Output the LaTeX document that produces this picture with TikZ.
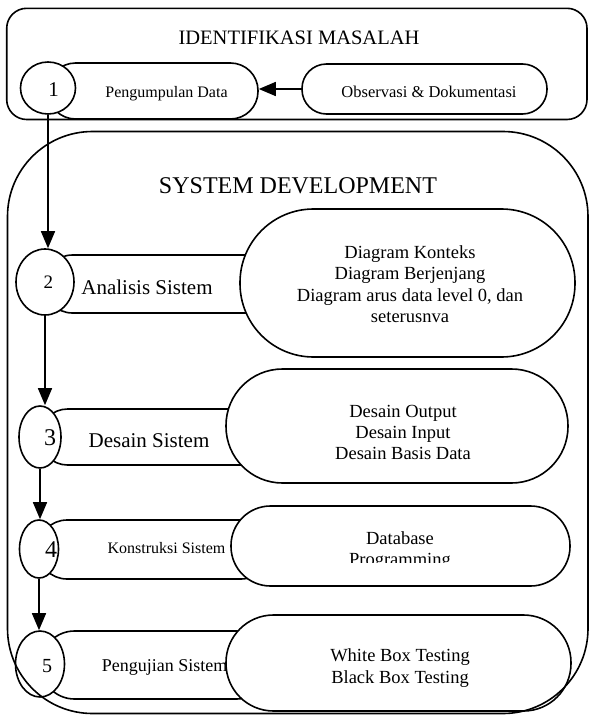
\documentclass[tikz,border=0pt]{standalone}
\usepackage{fontspec}
\setmainfont{Liberation Serif}
\usetikzlibrary{arrows.meta,shapes.geometric}
\begin{document}
\begin{tikzpicture}[x=1pt,y=-1pt,line width=1.6pt,
  pillbox/.style={draw, fill=white, rectangle, inner sep=0pt},
  numcirc/.style={draw, fill=white, ellipse, inner sep=0pt},
  lbl/.style={inner sep=0pt, anchor=base},
  fs/.style={font=\fontsize{#1}{#1}\selectfont},
  flow/.style={-{Triangle[length=17pt,width=14pt]}}]
\useasboundingbox (0,0) rectangle (590,715);

% top frame
\draw[rounded corners=20pt] (6.7,8.3) rectangle (587,119.5);

% row 1
\node[pillbox, minimum width=210pt, minimum height=56pt, rounded corners=27.5pt] (p1) at (153,91) {};
\node[pillbox, minimum width=245pt, minimum height=50pt, rounded corners=24.5pt] (obs) at (424.5,89) {};
\node[numcirc, minimum width=55pt, minimum height=52pt] (c1) at (48,88) {};

% row 2
\node[pillbox, minimum width=246pt, minimum height=58pt, rounded corners=28.5pt] (p2) at (167,284) {};
\node[numcirc, minimum width=58pt, minimum height=66pt] (c2) at (45,282) {};
\node[pillbox, minimum width=335pt, minimum height=148pt, rounded corners=73.5pt] (b2) at (407.5,283) {};

% row 3
\node[pillbox, minimum width=230pt, minimum height=56pt, rounded corners=27.5pt] (p3) at (155,437) {};
\node[numcirc, minimum width=42pt, minimum height=62pt] (c3) at (40,437) {};
\node[pillbox, minimum width=342pt, minimum height=114pt, rounded corners=56.5pt] (b3) at (397,426) {};

% row 4
\node[pillbox, minimum width=232pt, minimum height=59pt, rounded corners=29pt] (p4) at (154,549.5) {};
\node[numcirc, minimum width=39pt, minimum height=58pt] (c4) at (39,549) {};
\node[pillbox, minimum width=339pt, minimum height=80pt, rounded corners=39.5pt] (b4) at (400.5,546) {};

% row 5
\node[pillbox, minimum width=229pt, minimum height=68pt, rounded corners=33.5pt] (p5) at (155.5,665) {};
\node[numcirc, minimum width=49pt, minimum height=66pt] (c5) at (40,664) {};
\node[lbl, fs=18] (l5) at (164.5,671) {Pengujian Sistem};
\node[pillbox, minimum width=345pt, minimum height=96pt, rounded corners=47.5pt] (b5) at (398.5,663) {};

% texts
\node[lbl, fs=20.5] (t1) at (299,44.5) {IDENTIFIKASI MASALAH};
\node[lbl, fs=24] (t2) at (298,193) {SYSTEM DEVELOPMENT};
\node[lbl, fs=21] (n1) at (53.5,96) {1};
\node[lbl, fs=16] (l1) at (166.5,97.5) {Pengumpulan Data};
\node[lbl, fs=16.5] (l0) at (429,97.5) {Observasi \& Dokumentasi};

\node[lbl, fs=19] (n2) at (48.3,288) {2};
\node[lbl, fs=21] (l2) at (147,294) {Analisis Sistem};
\node[lbl, fs=18.5] (d21) at (410,258) {Diagram Konteks};
\node[lbl, fs=18.5] (d22) at (410,279.5) {Diagram Berjenjang};
\node[lbl, fs=18.5] (d23) at (410,301) {Diagram arus data level 0, dan};
\node[lbl, fs=18.5] (d24) at (410,322) {seterusnva};

\node[lbl, fs=24] (n3) at (50,445) {3};
\node[lbl, fs=21] (l3) at (149,447) {Desain Sistem};
\node[lbl, fs=18.5] (d31) at (403,417) {Desain Output};
\node[lbl, fs=18.5] (d32) at (403,438) {Desain Input};
\node[lbl, fs=18.5] (d33) at (403,459) {Desain Basis Data};

\node[lbl, fs=24] (n4) at (51,557) {4};
\node[lbl, fs=16] (l4) at (166.5,553) {Konstruksi Sistem};
\node[lbl, fs=18.5] (d41) at (400,544) {Database};
\begin{scope}
\clip (0,0) rectangle (590,562);
\node[lbl, fs=18.5] (d42) at (400,565) {Programming};
\end{scope}

\node[lbl, fs=20] (n5) at (47,672) {5};
\node[lbl, fs=18.5] (d51) at (400,661) {White Box Testing};
\begin{scope}
\clip (0,0) rectangle (590,686);
\node[lbl, fs=18.5] (d52) at (400,683) {Black Box Testing};
\end{scope}

% connectors
\draw[flow] (obs.west) -- (obs.west -| p1.east);
\draw[flow] (c1.south) -- (c1.south |- c2.north);
\draw[flow] (c2.south) -- (c2.south |- c3.north);
\draw[flow] (c3.south) -- (c3.south |- c4.north);
\draw[flow] (c4.south) -- (c4.south |- c5.north);

% big frame
\draw[rounded corners=85pt] (7.5,131.5) rectangle (588,713.5);
\end{tikzpicture}
\end{document}
